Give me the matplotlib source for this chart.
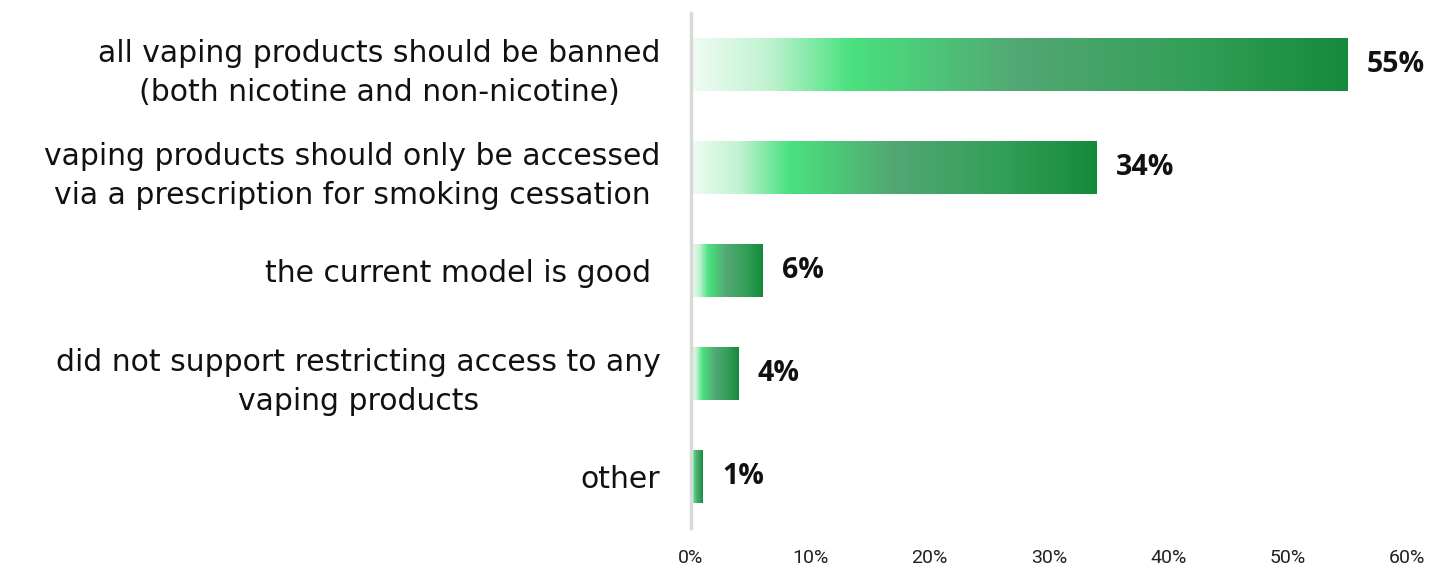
import numpy as np
import matplotlib.pyplot as plt
from matplotlib.colors import LinearSegmentedColormap

# datos
categorias = [
    'all vaping products should be banned\n(both nicotine and non-nicotine)',
    'vaping products should only be accessed\nvia a prescription for smoking cessation',
    'the current model is good ',
    'did not support restricting access to any\nvaping products',
    'other',
]
valores = [55, 34, 6, 4, 1]
ticks = [0, 10, 20, 30, 40, 50, 60]
tick_labels = ['0%', '10%', '20%', '30%', '40%', '50%', '60%']

# degradado de cada barra
verde = LinearSegmentedColormap.from_list('verde', [
    (0.0, '#f0fcf3'),
    (0.12, '#bff2d0'),
    (0.24, '#4ae27f'),
    (0.50, '#52a773'),
    (0.75, '#35a05a'),
    (1.0, '#168a3c'),
])
grad = np.linspace(0, 1, 256).reshape(1, -1)

fig = plt.figure(figsize=(14.31, 5.7), dpi=100)
ax = fig.add_axes([0.4829, 0.0737, 0.5003, 0.9033])

y = np.arange(len(valores))
barras = ax.barh(y, valores, height=0.51, color='none', edgecolor='none')

for b, v in zip(barras, valores):
    x0, y0 = b.get_x(), b.get_y()
    w, h = b.get_width(), b.get_height()
    ax.imshow(grad, cmap=verde, aspect='auto', interpolation='bicubic',
              extent=(x0, x0 + w, y0 + h, y0), zorder=2)
    ax.text(x0 + w + 1.6, y0 + h / 2, f'{v}%', va='center', ha='left',
            fontsize=20.5, fontweight='bold', family='Open Sans', color='#111111')

ax.set_xlim(0, 60)
ax.set_ylim(len(valores) - 0.5, -0.5)
ax.set_yticks(y)
ax.set_yticklabels(categorias, fontsize=21.5, color='#111111', family='DejaVu Sans',
                   multialignment='center', linespacing=1.45)
ax.set_xticks(ticks)
ax.set_xticklabels(tick_labels, fontsize=14, color='#222222', family='Roboto')
ax.tick_params(axis='both', length=0)
ax.tick_params(axis='y', pad=22)
ax.tick_params(axis='x', pad=15)

for s in ['top', 'right', 'bottom']:
    ax.spines[s].set_visible(False)
ax.spines['left'].set_color('#d9d9d9')
ax.spines['left'].set_linewidth(2.5)
ax.spines['left'].set_zorder(3)

plt.savefig('out.png', dpi=100)
